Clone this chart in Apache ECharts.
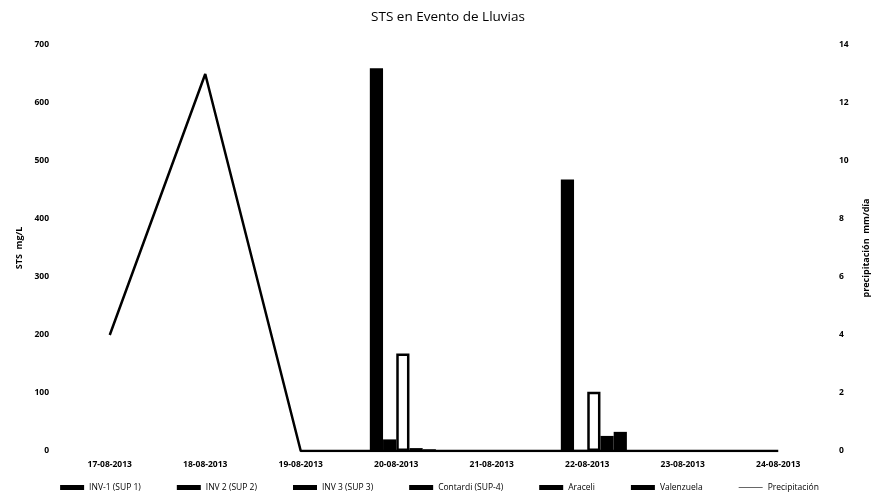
<!DOCTYPE html>
<html>
<head>
<meta charset="utf-8">
<script src="https://cdn.jsdelivr.net/npm/echarts@6/dist/echarts.min.js"></script>
<style>
  html, body { margin: 0; padding: 0; background: #fff; }
  #main { width: 879px; height: 500px; }
</style>
</head>
<body>
<div id="main"></div>
<script>
const fechas = ['17-08-2013', '18-08-2013', '19-08-2013', '20-08-2013', '21-08-2013', '22-08-2013', '23-08-2013', '24-08-2013'];
const inv1 = [null, null, null, 0, null, 0, null, null];
const inv2 = [null, null, null, 660, null, 468, null, null];
const inv3 = [null, null, null, 20, null, 2, null, null];
const contardi = [null, null, null, 168, null, 102, null, null];
const araceli = [null, null, null, 5, null, 26, null, null];
const valenzuela = [null, null, null, 3, null, 33, null, null];
const precipitacion = [4, 13, 0, 0, 0, 0, 0, 0];

const font = 'Open Sans';
const chart = echarts.init(document.getElementById('main'));

const tick = { fontFamily: font, fontSize: 8.5, fontWeight: 'bold', color: '#000' };

// barras negras, Contardi sale con relleno blanco y borde
const bar = (name, data, fill) => ({
    name: name,
    type: 'bar',
    data: data,
    barGap: '0%',
    barCategoryGap: '17%',
    itemStyle: fill
        ? { color: fill, borderColor: '#000', borderWidth: 2.5 }
        : { color: '#000' },
});

chart.setOption({
    animation: false,
    backgroundColor: '#fff',
    title: {
        text: 'STS en Evento de Lluvias',
        left: 443,
        top: 5,
        textAlign: 'center',
        textStyle: { fontFamily: font, fontSize: 13.5, fontWeight: 'normal', color: '#000' },
    },
    legend: {
        bottom: 3,
        left: 'center',
        itemWidth: 24,
        itemHeight: 5,
        itemGap: 36,
        textStyle: { fontFamily: font, fontSize: 8.5, color: '#000' },
        data: [
            { name: 'INV-1 (SUP 1)', icon: 'rect' },
            { name: 'INV 2 (SUP 2)', icon: 'rect' },
            { name: 'INV 3 (SUP 3)', icon: 'rect' },
            { name: 'Contardi (SUP-4)', icon: 'rect', itemStyle: { color: '#000', borderWidth: 0 } },
            { name: 'Araceli', icon: 'rect' },
            { name: 'Valenzuela', icon: 'rect' },
            { name: 'Precipitación', icon: 'path://M0,2.2 L24,2.2 L24,2.8 L0,2.8 Z' },
        ],
    },
    grid: { left: 62, right: 49, top: 45, bottom: 49 },
    xAxis: {
        type: 'category',
        data: fechas,
        axisLine: { show: false },
        axisTick: { show: false },
        axisLabel: Object.assign({ margin: 9 }, tick),
    },
    yAxis: [
        {
            type: 'value',
            min: 0,
            max: 700,
            interval: 100,
            name: 'STS  mg/L',
            nameLocation: 'middle',
            nameGap: 38,
            nameRotate: 90,
            nameTextStyle: { fontFamily: font, fontSize: 9, fontWeight: 'bold', color: '#000' },
            splitLine: { show: false },
            axisLine: { show: false },
            axisTick: { show: false },
            axisLabel: Object.assign({ margin: 13 }, tick),
        },
        {
            type: 'value',
            min: 0,
            max: 14,
            interval: 2,
            name: 'precipitación  mm/día',
            nameLocation: 'middle',
            nameGap: 36,
            nameRotate: 90,
            nameTextStyle: { fontFamily: font, fontSize: 9, fontWeight: 'bold', color: '#000' },
            splitLine: { show: false },
            axisLine: { show: false },
            axisTick: { show: false },
            axisLabel: Object.assign({ margin: 13 }, tick),
        },
    ],
    series: [
        bar('INV-1 (SUP 1)', inv1),
        bar('INV 2 (SUP 2)', inv2),
        bar('INV 3 (SUP 3)', inv3),
        bar('Contardi (SUP-4)', contardi, '#fff'),
        bar('Araceli', araceli),
        bar('Valenzuela', valenzuela),
        {
            name: 'Precipitación',
            type: 'line',
            yAxisIndex: 1,
            data: precipitacion,
            showSymbol: false,
            symbol: 'none',
            lineStyle: { color: '#000', width: 2.5 },
            itemStyle: { color: '#000' },
        },
    ],
});
</script>
</body>
</html>
